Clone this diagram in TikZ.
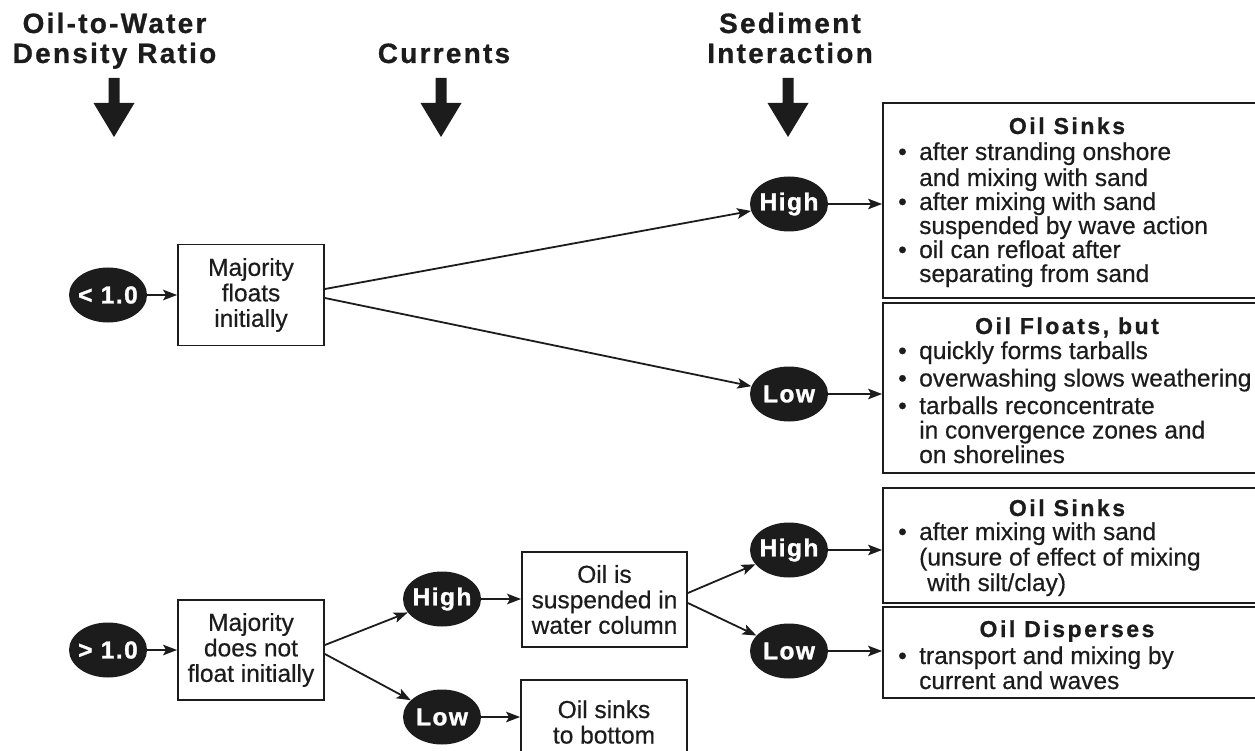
\documentclass[tikz,border=0pt]{standalone}
\usepackage{fontspec}
\setmainfont{Liberation Sans}[FakeBold=0.5]
\newfontfamily\wideface{Liberation Sans}[LetterSpace=8, BoldFeatures={FakeBold=0.8}]
\newfontfamily\ovalface{Liberation Sans}[LetterSpace=6, BoldFeatures={FakeBold=1.2}]
\newfontfamily\titleface{Liberation Sans}[LetterSpace=11, BoldFeatures={FakeBold=0.8}]
\usetikzlibrary{shapes.geometric,arrows.meta}
\definecolor{ink}{RGB}{28,28,28}

% bullet and hanging indent for the outcome lists
\newcommand\bul{\makebox[21pt][l]{•}}
\newcommand\ind{\hspace*{21pt}}
% keeps oval labels from widening the ellipse
\newcommand\ov[1]{\makebox[40pt]{#1}}

\tikzset{
  oval/.style={ellipse, fill=ink, minimum width=78pt, minimum height=55pt,
    inner sep=0pt, text=white, font=\ovalface\bfseries\fontsize{24.5}{24.5}\selectfont},
  box/.style={draw=ink, line width=1.8pt, minimum width=146pt, inner sep=0pt,
    align=center, text=ink, font=\fontsize{24.5}{25.5}\selectfont},
  rbox/.style={draw=ink, line width=1.8pt, minimum width=379pt, inner sep=0pt},
  conn/.style={draw=ink, line width=1.8pt, -{Stealth[length=14pt,width=10.5pt,inset=3pt]}},
  head/.style={inner sep=0pt, anchor=base, text=ink,
    font=\wideface\bfseries\fontsize{28}{30}\selectfont},
  rtitle/.style={inner sep=0pt, anchor=base, text=ink,
    font=\titleface\bfseries\fontsize{23}{23}\selectfont},
  rlist/.style={inner sep=0pt, anchor=base west, text=ink,
    font=\fontsize{24.5}{24.5}\selectfont},
  pics/bigarrow/.style={code={
    \fill[ink] (-5.5,0) -- (5.5,0) -- (5.5,25) -- (20.5,25) -- (0,59)
      -- (-20.5,25) -- (-5.5,25) -- cycle;}}
}

\begin{document}
\begin{tikzpicture}[x=1pt,y=-1pt]
\useasboundingbox (0,0) rectangle (1255,751);
\clip (0,0) rectangle (1255,751);

% column headings
\node[head] (hdA) at (114.5,33) {\parbox[t]{300pt}{\centering Oil-to-Water\\Density Ratio}};
\node[head] (hdB) at (444,63) {Currents};
\node[head] (hdC) at (790,33) {\parbox[t]{300pt}{\centering Sediment\\Interaction}};
\pic at (114,78) {bigarrow};
\pic at (441,78) {bigarrow};
\pic at (788,78) {bigarrow};

% density ratio
\node[oval] (lt) at (108,295) {\ov{< 1.0}};
\node[oval] (gt) at (108,650) {\ov{> 1.0}};

% first-stage boxes
\node[box, minimum height=101pt] (mf) at (251,295) {Majority\\floats\\initially};
\node[box, minimum height=100pt] (mn) at (251,650) {Majority\\does not\\float initially};

% currents
\node[oval] (cHi) at (442,599) {\ov{High}};
\node[oval] (cLo) at (442,717) {\ov{Low}};
\node[box, minimum width=165pt, minimum height=95pt] (sus) at (604.5,599.5) {Oil is\\suspended in\\water column};
\node[box, minimum width=166pt, minimum height=84pt] (sink) at (604,722) {Oil sinks\\to bottom};

% sediment interaction
\node[oval] (sHi1) at (789,204) {\ov{High}};
\node[oval] (sLo1) at (789,394) {\ov{Low}};
\node[oval] (sHi2) at (789,550) {\ov{High}};
\node[oval] (sLo2) at (789,651) {\ov{Low}};

% outcome boxes
\node[rbox, minimum height=195pt] (rb1) at (1072.5,200.5) {};
\node[rbox, minimum height=170pt] (rb2) at (1072.5,388) {};
\node[rbox, minimum height=115pt] (rb3) at (1072.5,545.5) {};
\node[rbox, minimum height=91pt]  (rb4) at (1072.5,652.5) {};

\node[rtitle] (t1) at (1067,134) {Oil Sinks};
\node[rlist] (l1) at (898,160) {\parbox[t]{350pt}{\raggedright\baselineskip=24pt
  \bul after stranding onshore\\[2pt]
  \ind and mixing with sand\\
  \bul after mixing with sand\\
  \ind suspended by wave action\\
  \bul oil can refloat after\\
  \ind separating from sand}};

\node[rtitle] (t2) at (1067,334) {Oil Floats, but};
\node[rlist] (l2) at (898,359) {\parbox[t]{360pt}{\raggedright\baselineskip=24.5pt
  \bul quickly forms tarballs\\[3pt]
  \bul overwashing slows weathering\\[3pt]
  \bul tarballs reconcentrate\\
  \ind in convergence zones and\\
  \ind on shorelines}};

\node[rtitle] (t3) at (1067,516) {Oil Sinks};
\node[rlist] (l3) at (898,540) {\parbox[t]{350pt}{\raggedright\baselineskip=25.5pt
  \bul after mixing with sand\\
  \ind (unsure of effect of mixing\\
  \hspace*{29pt}with silt/clay)}};

\node[rtitle] (t4) at (1067,637) {Oil Disperses};
\node[rlist] (l4) at (898,664) {\parbox[t]{350pt}{\raggedright\baselineskip=25pt
  \bul transport and mixing by\\
  \ind current and waves}};

% connectors
\draw[conn] (lt.east) -- (mf.west);
\draw[conn] ([yshift=6pt]mf.east) -- (sHi1);
\draw[conn] ([yshift=-3pt]mf.east) -- (sLo1);
\draw[conn] (sHi1.east) -- (sHi1.east -| rb1.west);
\draw[conn] (sLo1.east) -- (sLo1.east -| rb2.west);

\draw[conn] (gt.east) -- (mn.west);
\draw[conn] ([yshift=5pt]mn.east) -- (cHi);
\draw[conn] ([yshift=-4pt]mn.east) -- (cLo);
\draw[conn] (cHi.east) -- (cHi.east -| sus.west);
\draw[conn] (cLo.east) -- (cLo.east -| sink.west);
\draw[conn] ([yshift=6.5pt]sus.east) -- (sHi2);
\draw[conn] ([yshift=-3.5pt]sus.east) -- (sLo2);
\draw[conn] (sHi2.east) -- (sHi2.east -| rb3.west);
\draw[conn] (sLo2.east) -- (sLo2.east -| rb4.west);
\end{tikzpicture}
\end{document}
